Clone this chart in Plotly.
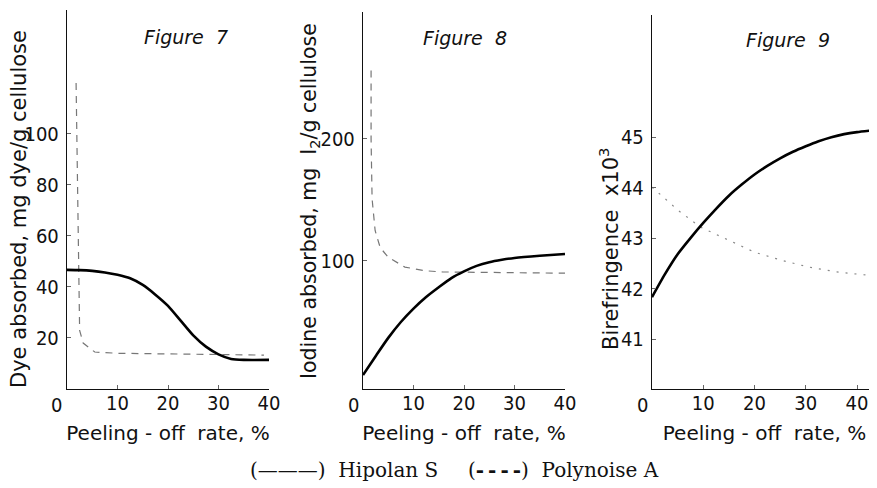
import plotly.graph_objects as go

# The page body adds an 8px offset on the left and top, so the figure is made
# 8px smaller in each direction and all pixel positions below are window coordinates.
WIN_W, WIN_H = 877, 488
OFF_X, OFF_Y = 8, 8
W, H = WIN_W - OFF_X, WIN_H - OFF_Y

# ---------------- data ----------------
fig7_hipolan_x = [0, 2.5, 5, 7.5, 10, 12.5, 15, 17.5, 20, 22.5, 25, 27.5, 30, 32.5, 35, 40]
fig7_hipolan_y = [46.7, 46.6, 46.3, 45.7, 44.8, 43.4, 40.8, 37.0, 32.6, 26.8, 21.0, 16.6, 13.6, 11.8, 11.4, 11.4]
fig7_poly_x = [1.8, 2.0, 2.2, 2.3, 2.5, 3.2, 5.5, 10, 20, 39]
fig7_poly_y = [120, 90, 60, 35, 23, 18, 14.5, 14, 13.8, 13.3]

fig8_hipolan_x = [0, 2.5, 5, 7.5, 10, 12.5, 15, 17.5, 20, 22.5, 25, 27.5, 30, 35, 40]
fig8_hipolan_y = [6.6, 22, 37, 50, 61, 70.5, 78.5, 86, 91.5, 96, 99, 101, 102.5, 104.3, 105.7]
fig8_poly_x = [1.6, 1.6, 1.8, 2.4, 3.4, 5, 8.3, 12.3, 15.7, 40]
fig8_poly_y = [256, 200, 151, 125, 111, 103, 95, 92, 91, 90]

fig9_hipolan_x = [0, 2.5, 5, 7.5, 10, 12.5, 15, 17.5, 20, 22.5, 25, 27.5, 30, 32.5, 35, 37.5, 40, 43.5]
fig9_hipolan_y = [41.83, 42.28, 42.68, 43.0, 43.3, 43.58, 43.84, 44.06, 44.26, 44.43, 44.58,
                  44.71, 44.82, 44.92, 45.0, 45.06, 45.1, 45.14]
fig9_poly_x = [0, 5.1, 9.4, 14.8, 20, 25.3, 30.4, 36, 43.5]
fig9_poly_y = [44.01, 43.55, 43.22, 42.96, 42.72, 42.56, 42.43, 42.33, 42.25]

x_ticks = [10, 20, 30, 40]
fig7_y_ticks = [20, 40, 60, 80, 100]
fig8_y_ticks = [100, 200]
fig9_y_ticks = [41, 42, 43, 44, 45]

x_title = "Peeling - off  rate, %"
y_titles = ["Dye absorbed, mg dye/g cellulose",
            "Iodine absorbed, mg  I<sub>2</sub>/g cellulose",
            "Birefringence  x10<sup>3</sup>"]
panel_titles = ["Figure\u00a0\u00a07", "Figure\u00a0\u00a08", "Figure\u00a0\u00a09"]
series_names = ["Hipolan S", "Polynoise A"]

# ---------------- styling ----------------
TICKFONT = dict(family="Liberation Sans Narrow, DejaVu Sans Condensed, sans-serif", size=20, color="#111")
TITLEFONT = dict(family="DejaVu Sans, sans-serif", size=20, color="#111")
SOLID = dict(color="black", width=2.6)
POLY_LINE = [dict(color="#777", width=1.2, dash="7px,6px"),
             dict(color="#777", width=1.2, dash="7px,6px"),
             dict(color="#888", width=1.2, dash="2px,7px")]


def px2x(p):
    return (p - OFF_X) / W


def px2y(p):
    return 1 - (p - OFF_Y) / H


fig = go.Figure()

panels = [
    (fig7_hipolan_x, fig7_hipolan_y, fig7_poly_x, fig7_poly_y),
    (fig8_hipolan_x, fig8_hipolan_y, fig8_poly_x, fig8_poly_y),
    (fig9_hipolan_x, fig9_hipolan_y, fig9_poly_x, fig9_poly_y),
]
for i, (hx, hy, px_, py_) in enumerate(panels):
    xa = "x" if i == 0 else f"x{i+1}"
    ya = "y" if i == 0 else f"y{i+1}"
    fig.add_trace(go.Scatter(x=px_, y=py_, mode="lines", name=series_names[1],
                             line=POLY_LINE[i], xaxis=xa, yaxis=ya, showlegend=False))
    fig.add_trace(go.Scatter(x=hx, y=hy, mode="lines", name=series_names[0],
                             line=dict(SOLID, shape="spline", smoothing=0.6),
                             xaxis=xa, yaxis=ya, showlegend=False))

axis_common = dict(showgrid=False, zeroline=False, showline=True, linecolor="#111",
                   linewidth=1.4, ticks="inside", ticklen=4, tickcolor="#666",
                   tickwidth=1, tickfont=TICKFONT, fixedrange=True)

xdomains = [(67, 269), (363, 565), (652, 877)]
ytops = [10, 12, 15]
ybottom = 389
xranges = [[0, 40], [0, 40], [0, 43.9]]
yranges = [[0, 148.6], [-4.9, 304], [40.01, 47.42]]
yticks = [fig7_y_ticks, fig8_y_ticks, fig9_y_ticks]

layout = dict(width=W, height=H, margin=dict(l=0, r=0, t=0, b=0, autoexpand=False),
              paper_bgcolor="white", plot_bgcolor="white", showlegend=False)
for i in range(3):
    sx = "" if i == 0 else str(i + 1)
    layout[f"xaxis{sx}"] = dict(axis_common, domain=[px2x(xdomains[i][0]), min(1, px2x(xdomains[i][1]))],
                                range=xranges[i], anchor=f"y{sx}", tickvals=x_ticks,
                                ticklabelstandoff=-4,
                                title=dict(text=x_title, font=TITLEFONT, standoff=11))
    layout[f"yaxis{sx}"] = dict(axis_common, domain=[px2y(ybottom), px2y(ytops[i])],
                                range=yranges[i], anchor=f"x{sx}", tickvals=yticks[i],
                                ticklabelstandoff=3)
fig.update_layout(**layout)

annotations = []
# "0" origin labels, placed slightly left of the corner as in the original
for i in range(3):
    sx = "" if i == 0 else str(i + 1)
    annotations.append(dict(text="0", x=0, y=yranges[i][0], xref=f"x{sx}", yref=f"y{sx}",
                            xanchor="center", yanchor="top", xshift=-10, yshift=-2,
                            showarrow=False, font=TICKFONT))
# panel titles
title_pos = [(186, 37), (465, 38), (788, 40)]
for t, (cx, cy) in zip(panel_titles, title_pos):
    annotations.append(dict(text=t, x=px2x(cx), y=px2y(cy), xref="paper", yref="paper",
                            xanchor="center", yanchor="middle", showarrow=False,
                            font=dict(family="DejaVu Sans, sans-serif", size=19,
                                      color="#111", style="italic")))
# y-axis titles
ytitle_pos = [(19, 209, 21), (310, 201, 20.5), (609, 249, 21)]
for t, (cx, cy, fs) in zip(y_titles, ytitle_pos):
    annotations.append(dict(text=t, x=px2x(cx), y=px2y(cy), xref="paper", yref="paper",
                            xanchor="center", yanchor="middle", textangle=-90,
                            showarrow=False, font=dict(TITLEFONT, size=fs)))
# legend text
LEGFONT = dict(family="DejaVu Serif, Liberation Serif, serif", size=20, color="#111")
annotations.append(dict(text="(\u2014\u2014\u2014)\u00a0 " + series_names[0], x=px2x(248), y=px2y(470),
                        xref="paper", yref="paper", xanchor="left", yanchor="middle",
                        showarrow=False, font=LEGFONT))
annotations.append(dict(text="(<b>-\u2009-\u2009-\u2009-</b>)\u00a0 " + series_names[1],
                        x=px2x(466), y=px2y(470),
                        xref="paper", yref="paper", xanchor="left", yanchor="middle",
                        showarrow=False, font=LEGFONT))
fig.update_layout(annotations=annotations)

fig.write_html("out.html")
